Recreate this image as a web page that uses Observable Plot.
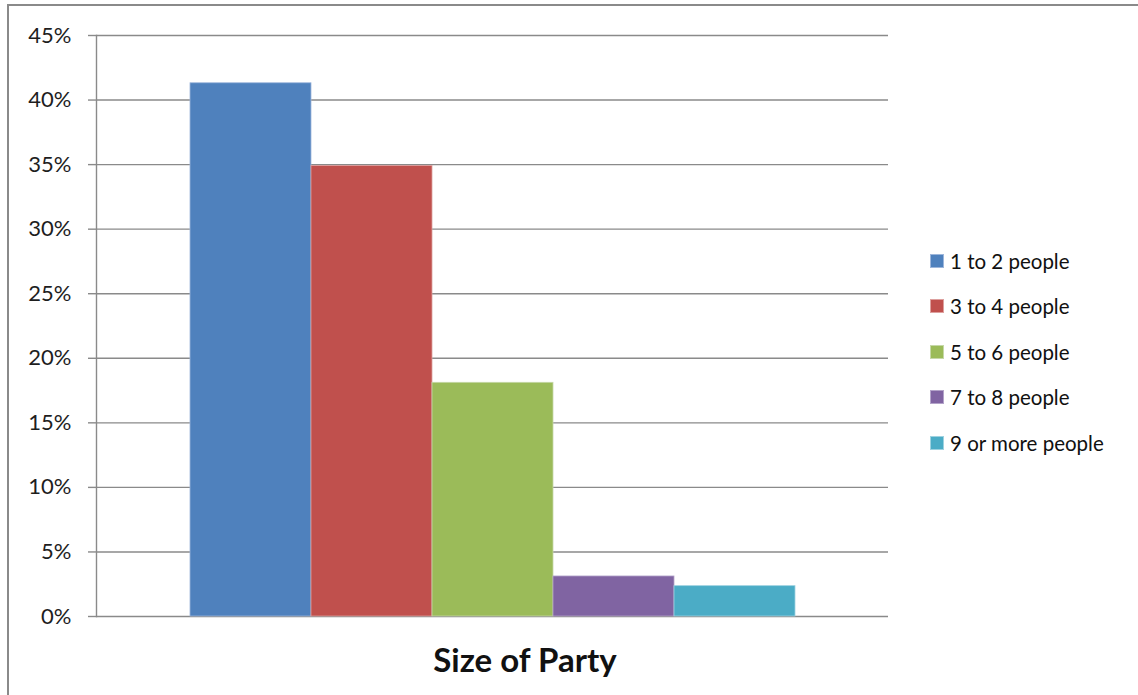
<!DOCTYPE html>
<html>
<head>
<meta charset="utf-8">
<script src="https://cdn.jsdelivr.net/npm/d3@7"></script>
<script src="https://cdn.jsdelivr.net/npm/@observablehq/plot@0.6"></script>
<style>
  html, body { margin: 0; padding: 0; background: #fff; }
  #wrap { position: relative; width: 1138px; height: 695px; overflow: hidden; font-family: Lato, "Open Sans", sans-serif; }
  #border { position: absolute; left: 7px; top: 4px; width: 1300px; height: 900px; border: 2px solid #8a8a8a; box-sizing: border-box; }
  #chart { position: absolute; left: 0; top: 0; }
  #legend { position: absolute; left: 930px; top: 238px; }
  .row { display: flex; align-items: center; height: 45.5px; font-size: 20.5px; color: #111; }
  .sw { width: 14px; height: 14px; margin-right: 6px; box-sizing: border-box; }
  #title { position: absolute; left: 0; width: 1050px; top: 639px; text-align: center; font-weight: bold; font-size: 33px; color: #111; }
</style>
</head>
<body>
<div id="wrap">
  <div id="border"></div>
  <div id="chart"></div>
  <div id="legend"></div>
  <div id="title">Size of Party</div>
</div>
<script>
// Party-size groups and their share of all parties
const groups = ["1 to 2 people", "3 to 4 people", "5 to 6 people", "7 to 8 people", "9 or more people"];
const shares = [0.413, 0.349, 0.181, 0.031, 0.0235];
const colors = ["#4F81BD", "#C0504D", "#9BBB59", "#8064A2", "#4BACC6"];
const edgeColors = ["#9DB6DB", "#DDA09E", "#C6D8A8", "#B3A3C9", "#9ED2E0"];
const yTicks = [0, 0.05, 0.10, 0.15, 0.20, 0.25, 0.30, 0.35, 0.40, 0.45];

const data = groups.map((g, i) => ({group: g, share: shares[i]}));

const chart = Plot.plot({
  width: 1138,
  height: 695,
  marginTop: 35,
  marginBottom: 79,
  marginLeft: 96,
  marginRight: 250,
  style: {fontFamily: "Lato, 'Open Sans', sans-serif", fontSize: "22px", color: "#1e1e1e", background: "transparent"},
  x: {domain: groups, paddingInner: 0, paddingOuter: 0.757, axis: null},
  y: {domain: [0, 0.45], axis: null},
  color: {domain: groups, range: colors},
  marks: [
    Plot.ruleY(yTicks, {stroke: "#8a8a8a", strokeWidth: 1.4}),
    Plot.barY(data, {x: "group", y: "share", fill: "group", stroke: (d, i) => edgeColors[i], strokeWidth: 0.8, inset: 0}),
    Plot.frame({anchor: "left", stroke: "#8a8a8a", strokeWidth: 1.4}),
    Plot.axisY(yTicks, {
      label: null,
      tickFormat: d => Math.round(d * 100) + "%",
      tickSize: 8,
      tickPadding: 17,
      stroke: "#8a8a8a",
      strokeWidth: 1.4,
      fontSize: 22
    })
  ]
});
document.getElementById("chart").appendChild(chart);

// Legend built from the same groups and colours
const legend = document.getElementById("legend");
groups.forEach((g, i) => {
  const row = document.createElement("div");
  row.className = "row";
  const sw = document.createElement("div");
  sw.className = "sw";
  sw.style.background = colors[i];
  sw.style.border = "1px solid " + edgeColors[i];
  const label = document.createElement("span");
  label.textContent = g;
  row.appendChild(sw);
  row.appendChild(label);
  legend.appendChild(row);
});
</script>
</body>
</html>
